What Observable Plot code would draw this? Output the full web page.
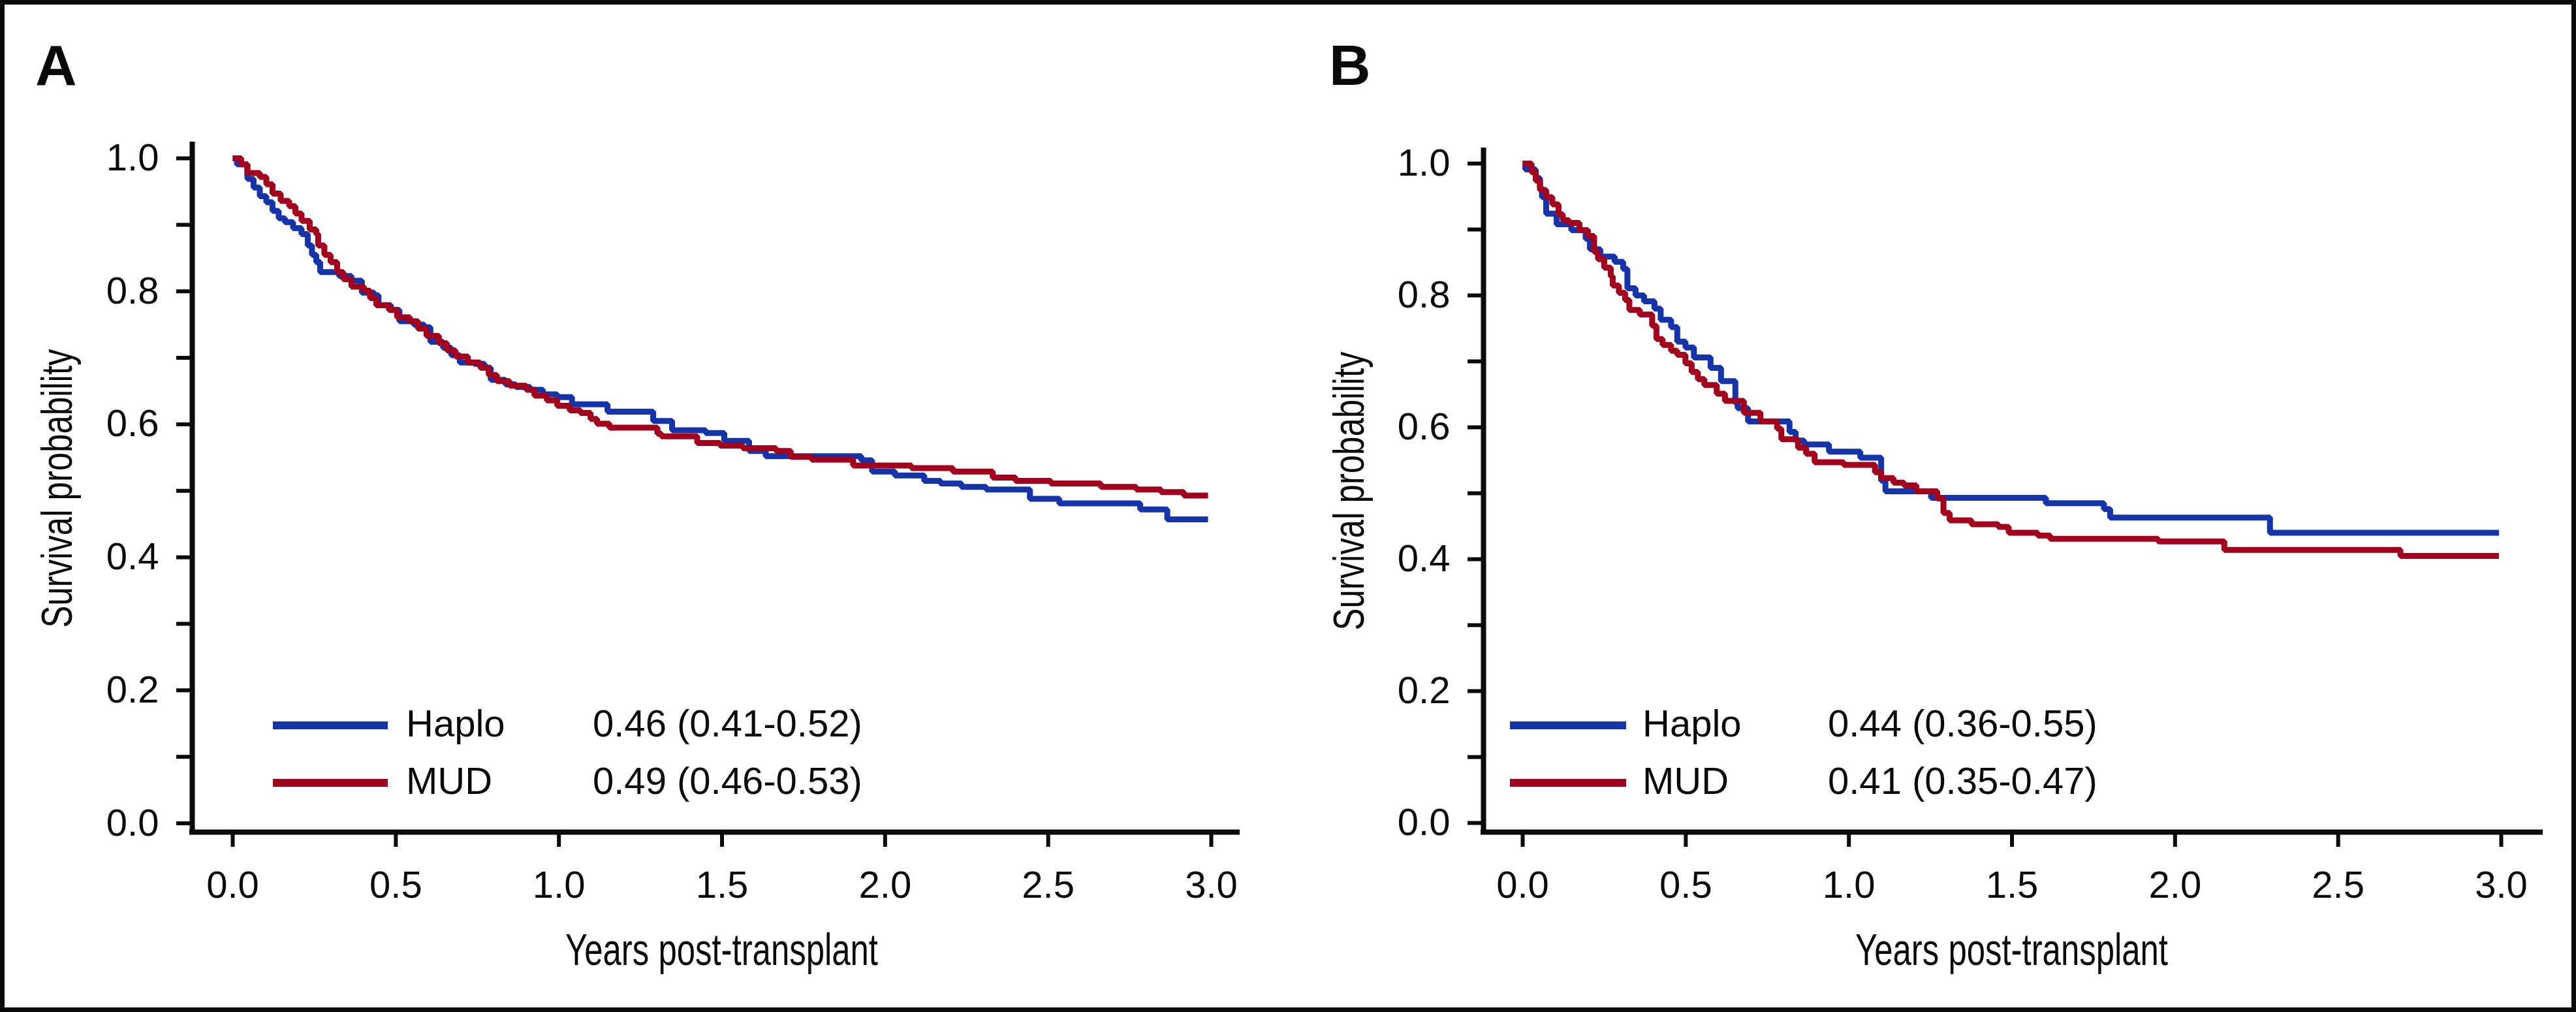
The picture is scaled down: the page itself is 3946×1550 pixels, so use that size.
<!DOCTYPE html>
<html>
<head>
<meta charset="utf-8">
<script src="https://cdn.jsdelivr.net/npm/d3@7"></script>
<script src="https://cdn.jsdelivr.net/npm/@observablehq/plot@0.6"></script>
<style>
  html, body { margin: 0; padding: 0; background: #fff; }
  #fig { position: relative; width: 3946px; height: 1550px; overflow: hidden; background: #fff; }
  .panel { position: absolute; top: 0; }
  #overlay { position: absolute; left: 0; top: 0; pointer-events: none; }
</style>
</head>
<body>
<div id="fig"></div>
<script>
// ---------------- data ----------------
const xTicks = [0, 0.5, 1, 1.5, 2, 2.5, 3];
const yTicks = [0, 0.2, 0.4, 0.6, 0.8, 1.0];
const yMinorTicks = [0.1, 0.3, 0.5, 0.7, 0.9];
const groups = ["Haplo", "MUD"];
const groupColors = ["#1634aa", "#a3001e"];
const estimatesA = ["0.46 (0.41-0.52)", "0.49 (0.46-0.53)"];
const estimatesB = ["0.44 (0.36-0.55)", "0.41 (0.35-0.47)"];
const panelLetters = ["A", "B"];
const xTitle = "Years post-transplant";
const yTitle = "Survival probability";

// Panel A – Haplo
const haploA_t = [0, 0.013, 0.045, 0.064, 0.083, 0.103, 0.122, 0.141, 0.160, 0.185, 0.211, 0.230, 0.243, 0.256, 0.268, 0.326, 0.364, 0.396, 0.434, 0.447, 0.485, 0.511, 0.555, 0.587, 0.606, 0.645, 0.670, 0.696, 0.740, 0.772, 0.791, 0.836, 0.868, 0.912, 0.951, 0.995, 1.040, 1.149, 1.289, 1.347, 1.450, 1.507, 1.583, 1.634, 1.927, 1.960, 2.030, 2.120, 2.170, 2.234, 2.310, 2.444, 2.534, 2.782, 2.865, 2.990];
const haploA_s = [1.000, 0.991, 0.969, 0.956, 0.943, 0.934, 0.921, 0.910, 0.904, 0.895, 0.886, 0.869, 0.855, 0.844, 0.829, 0.823, 0.816, 0.798, 0.794, 0.779, 0.772, 0.755, 0.750, 0.746, 0.724, 0.715, 0.704, 0.693, 0.691, 0.685, 0.667, 0.660, 0.656, 0.652, 0.645, 0.641, 0.630, 0.619, 0.605, 0.591, 0.587, 0.575, 0.560, 0.552, 0.546, 0.529, 0.523, 0.515, 0.511, 0.506, 0.502, 0.488, 0.481, 0.472, 0.457, 0.457];
// Panel A – MUD
const mudA_t = [0, 0.026, 0.045, 0.083, 0.103, 0.122, 0.147, 0.173, 0.192, 0.211, 0.236, 0.256, 0.262, 0.281, 0.300, 0.320, 0.339, 0.364, 0.402, 0.421, 0.440, 0.479, 0.504, 0.543, 0.568, 0.594, 0.632, 0.657, 0.683, 0.721, 0.759, 0.785, 0.810, 0.849, 0.900, 0.925, 0.963, 0.995, 1.033, 1.066, 1.097, 1.117, 1.155, 1.302, 1.314, 1.424, 1.494, 1.564, 1.666, 1.711, 1.775, 1.902, 2.081, 2.208, 2.330, 2.400, 2.508, 2.661, 2.770, 2.846, 2.916, 2.990];
const mudA_s = [1.000, 0.991, 0.978, 0.972, 0.961, 0.947, 0.936, 0.928, 0.917, 0.906, 0.893, 0.886, 0.869, 0.855, 0.844, 0.829, 0.818, 0.807, 0.801, 0.790, 0.779, 0.772, 0.761, 0.755, 0.744, 0.733, 0.722, 0.711, 0.702, 0.693, 0.685, 0.674, 0.665, 0.658, 0.652, 0.643, 0.636, 0.628, 0.621, 0.617, 0.608, 0.601, 0.595, 0.586, 0.582, 0.572, 0.568, 0.564, 0.560, 0.551, 0.547, 0.538, 0.534, 0.529, 0.520, 0.515, 0.511, 0.506, 0.502, 0.498, 0.493, 0.493];

// Panel B – Haplo
const haploB_t = [0, 0.008, 0.040, 0.053, 0.059, 0.072, 0.104, 0.149, 0.193, 0.206, 0.238, 0.282, 0.308, 0.321, 0.346, 0.372, 0.404, 0.423, 0.455, 0.474, 0.499, 0.525, 0.576, 0.608, 0.652, 0.659, 0.691, 0.818, 0.837, 0.863, 0.939, 1.035, 1.099, 1.112, 1.252, 1.604, 1.782, 1.801, 2.291, 2.993];
const haploB_s = [1.000, 0.991, 0.978, 0.963, 0.949, 0.924, 0.908, 0.899, 0.886, 0.870, 0.859, 0.851, 0.840, 0.811, 0.800, 0.791, 0.780, 0.763, 0.752, 0.730, 0.721, 0.706, 0.690, 0.670, 0.637, 0.629, 0.609, 0.593, 0.580, 0.574, 0.563, 0.554, 0.519, 0.503, 0.493, 0.485, 0.476, 0.463, 0.440, 0.440];
// Panel B – MUD
const mudB_t = [0, 0.027, 0.040, 0.053, 0.072, 0.091, 0.110, 0.123, 0.142, 0.174, 0.200, 0.219, 0.231, 0.250, 0.270, 0.276, 0.295, 0.314, 0.327, 0.359, 0.397, 0.410, 0.429, 0.455, 0.474, 0.499, 0.518, 0.537, 0.557, 0.595, 0.620, 0.678, 0.729, 0.780, 0.793, 0.844, 0.869, 0.895, 0.984, 1.080, 1.099, 1.137, 1.169, 1.207, 1.271, 1.290, 1.309, 1.376, 1.458, 1.490, 1.579, 1.617, 1.948, 2.151, 2.691, 2.993];
const mudB_s = [1.000, 0.987, 0.974, 0.960, 0.949, 0.938, 0.923, 0.914, 0.910, 0.899, 0.890, 0.866, 0.855, 0.842, 0.829, 0.815, 0.804, 0.793, 0.778, 0.771, 0.754, 0.734, 0.725, 0.716, 0.710, 0.697, 0.684, 0.673, 0.664, 0.651, 0.640, 0.622, 0.609, 0.598, 0.582, 0.569, 0.560, 0.547, 0.543, 0.532, 0.523, 0.516, 0.512, 0.503, 0.492, 0.470, 0.459, 0.453, 0.449, 0.440, 0.436, 0.431, 0.427, 0.414, 0.405, 0.405];

// ---------------- layout ----------------
const FONT = "'Liberation Sans', Arial, Helvetica, sans-serif";
const NARROW = "'Liberation Sans Narrow', 'Arial Narrow', 'Liberation Sans', Arial, sans-serif";
const INK = "#0a0a0a";
const panelCfg = [
  { left: 0, ml: 294, mr: 78, mt: 221, mb: 276,
    xd: [-0.12408, 3.08003], yd: [-0.013255, 1.020619],
    haplo: [haploA_t, haploA_s], mud: [mudA_t, mudA_s], est: estimatesA,
    letterX: 54, xTitleX: 1105.5, yTitleX: 110, yTitleY: 748,
    swX: [418, 594], labX: 622, estX: 908 },
  { left: 1973, ml: 299, mr: 55, mt: 230, mb: 276,
    xd: [-0.12008, 3.12006], yd: [-0.013861, 1.019802],
    haplo: [haploB_t, haploB_s], mud: [mudB_t, mudB_s], est: estimatesB,
    letterX: 2036, xTitleX: 3081.5, yTitleX: 2089, yTitleY: 752,
    swX: [2313, 2491], labX: 2516, estX: 2800 }
];

function series(ts, ss, group) { return ts.map((t, i) => ({ t, s: ss[i], group })); }

const fig = document.getElementById("fig");

panelCfg.forEach(cfg => {
  const data = [...series(cfg.haplo[0], cfg.haplo[1], groups[0]), ...series(cfg.mud[0], cfg.mud[1], groups[1])];
  const chart = Plot.plot({
    width: 1973, height: 1550,
    marginLeft: cfg.ml, marginRight: cfg.mr, marginTop: cfg.mt, marginBottom: cfg.mb,
    x: { domain: cfg.xd, axis: null },
    y: { domain: cfg.yd, axis: null },
    color: { domain: groups, range: groupColors },
    style: { fontFamily: FONT, fontSize: "58px", color: INK, background: "transparent", overflow: "visible" },
    marks: [
      Plot.axisY({ ticks: yMinorTicks, tickSize: 24, tickFormat: () => "", strokeWidth: 6, label: null }),
      Plot.axisY({ ticks: yTicks, tickSize: 24, tickPadding: 27, tickFormat: d => d.toFixed(1), strokeWidth: 6, label: null }),
      Plot.axisX({ ticks: xTicks, tickSize: 23, tickPadding: 36, tickFormat: d => d.toFixed(1), strokeWidth: 6, label: null }),
      Plot.line(data, { x: "t", y: "s", z: "group", stroke: "group", strokeWidth: 9, curve: "step-after", strokeLinejoin: "miter", strokeLinecap: "butt" }),
      Plot.ruleX([cfg.xd[0]], { stroke: INK, strokeWidth: 8, strokeLinecap: "square" }),
      Plot.ruleY([cfg.yd[0]], { stroke: INK, strokeWidth: 8, strokeLinecap: "square" })
    ]
  });
  const wrap = document.createElement("div");
  wrap.className = "panel";
  wrap.style.left = cfg.left + "px";
  wrap.appendChild(chart);
  fig.appendChild(wrap);
});

// ---------------- overlay: frame, letters, titles, legends ----------------
const svg = d3.select(fig).append("svg")
  .attr("id", "overlay").attr("width", 3946).attr("height", 1550);

svg.append("rect").attr("x", 3.5).attr("y", 3.5).attr("width", 3939).attr("height", 1543)
  .attr("fill", "none").attr("stroke", INK).attr("stroke-width", 7);

panelCfg.forEach((cfg, k) => {
  svg.append("text").text(panelLetters[k])
    .attr("x", cfg.letterX).attr("y", 130)
    .attr("font-family", FONT).attr("font-weight", 900).attr("font-size", 88).attr("fill", INK);

  svg.append("text").text(xTitle)
    .attr("x", cfg.xTitleX).attr("y", 1478).attr("text-anchor", "middle")
    .attr("font-family", NARROW).attr("font-size", 68).attr("fill", INK)
    .attr("textLength", 479).attr("lengthAdjust", "spacingAndGlyphs");

  svg.append("text").text(yTitle)
    .attr("transform", `translate(${cfg.yTitleX},${cfg.yTitleY}) rotate(-90)`)
    .attr("text-anchor", "middle")
    .attr("font-family", NARROW).attr("font-size", 66).attr("fill", INK)
    .attr("textLength", 427).attr("lengthAdjust", "spacingAndGlyphs");

  const rowY = [1111, 1199];
  groups.forEach((g, i) => {
    svg.append("line")
      .attr("x1", cfg.swX[0]).attr("x2", cfg.swX[1]).attr("y1", rowY[i]).attr("y2", rowY[i])
      .attr("stroke", groupColors[i]).attr("stroke-width", 12);
    svg.append("text").text(g)
      .attr("x", cfg.labX).attr("y", rowY[i] + 17)
      .attr("font-family", FONT).attr("font-size", 58).attr("fill", INK);
    svg.append("text").text(cfg.est[i])
      .attr("x", cfg.estX).attr("y", rowY[i] + 17)
      .attr("font-family", FONT).attr("font-size", 58).attr("fill", INK);
  });
});
</script>
</body>
</html>
